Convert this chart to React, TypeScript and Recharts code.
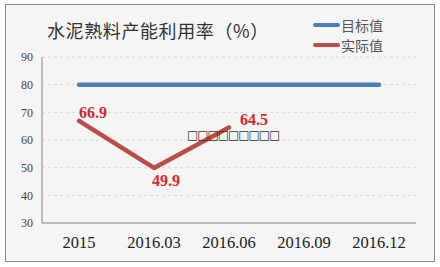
import React from 'react';
import { LineChart, Line, XAxis, YAxis, CartesianGrid, LabelList } from 'recharts';

const categories = ['2015', '2016.03', '2016.06', '2016.09', '2016.12'];
const targetValues = [80, 80, 80, 80, 80];
const actualValues: (number | null)[] = [66.9, 49.9, 64.5, null, null];
const yTicks = [30, 40, 50, 60, 70, 80, 90];
const title = '水泥熟料产能利用率（%）';
const seriesNames = ['目标值', '实际值'];
const seriesColors = ['#4a7ebb', '#be4b48'];
const placeholderText = '□□□□□□□□□';

const data = categories.map((name, i) => ({
  name,
  target: targetValues[i],
  actual: actualValues[i]
}));

const serif = '"Liberation Serif", "DejaVu Serif", serif';
const cjk = '"Noto Sans CJK SC", sans-serif';

// label placement tweaks, per point
const labelOffsets = [
  { dx: 0, dy: -9 },
  { dx: -2, dy: 12 },
  { dx: 11, dy: -8 }
];

const renderActualLabel = (props: any) => {
  const { x, y, value, index } = props;
  if (value == null) return null;
  const off = labelOffsets[index] || { dx: 0, dy: -9 };
  return <text x={x + off.dx} y={y + off.dy} dy="0.35em" textAnchor="start" fill="#d7262e" style={{ fontFamily: serif }} fontWeight="bold" fontSize={16}>
      {value}
    </text>;
};

const XTick = (props: any) => {
  const { x, y, payload } = props;
  return <text x={x} y={y + 7} textAnchor="middle" dy="0.35em" fill="#222" fontSize={16.5} style={{ fontFamily: serif }}>
      {payload.value}
    </text>;
};

const YTick = (props: any) => {
  const { x, y, payload } = props;
  return <text x={x} y={y} textAnchor="end" dy="0.35em" fill="#444" fontSize={12} style={{ fontFamily: serif }}>
      {payload.value}
    </text>;
};

export default function App() {
  return <div style={{ position: 'absolute', left: 0, top: 0, width: 440, height: 267, background: '#fff' }}>
      <div style={{ position: 'absolute', left: 5, top: 4, width: 428, height: 256, border: '1.5px solid #8a8a8a', background: '#f5f5f5' }} />
      <div style={{ position: 'absolute', left: 47, top: 18, fontFamily: cjk, fontSize: 18, color: '#333', letterSpacing: 0.6, lineHeight: '24px', whiteSpace: 'nowrap' }}>
        {title}
      </div>
      <div style={{ position: 'absolute', left: 313, top: 15, fontFamily: cjk, fontSize: 14, color: '#555', lineHeight: '20px' }}>
        {seriesNames.map((name, i) => <div key={name} style={{ display: 'flex', alignItems: 'center' }}>
            <div style={{ width: 27, height: 4, borderRadius: 2, background: seriesColors[i], marginRight: 1 }} />
            <span>{name}</span>
          </div>)}
      </div>
      <div style={{ position: 'absolute', left: 0, top: 0 }}>
        <LineChart width={440} height={267} data={data} margin={{ top: 57, right: 24, bottom: 14, left: 6 }}>
          <CartesianGrid vertical={false} stroke="#d9d9d9" strokeDasharray="3 3" />
          <XAxis dataKey="name" padding={{ left: 37, right: 37 }} axisLine={{ stroke: '#aaa', strokeWidth: 1.5 }} tickLine={false} tickSize={0} tickMargin={12} height={30} interval={0} tick={<XTick />} />
          <YAxis domain={[30, 90]} ticks={yTicks} width={36} axisLine={{ stroke: '#aaa', strokeWidth: 1.5 }} tickLine={false} tickSize={0} tickMargin={9} tick={<YTick />} />
          <Line type="linear" dataKey="target" name={seriesNames[0]} stroke={seriesColors[0]} strokeWidth={4.5} strokeLinecap="round" dot={false} isAnimationActive={false} />
          <Line type="linear" dataKey="actual" name={seriesNames[1]} stroke={seriesColors[1]} strokeWidth={4.5} strokeLinecap="round" strokeLinejoin="round" dot={false} isAnimationActive={false}>
            <LabelList dataKey="actual" content={renderActualLabel} />
          </Line>
        </LineChart>
      </div>
      <div style={{ position: 'absolute', left: 187, top: 128, fontFamily: '"DejaVu Sans", sans-serif', fontSize: 12, color: '#333', lineHeight: '14px', letterSpacing: -1.1, whiteSpace: 'nowrap' }}>
        {placeholderText}
      </div>
    </div>;
}
